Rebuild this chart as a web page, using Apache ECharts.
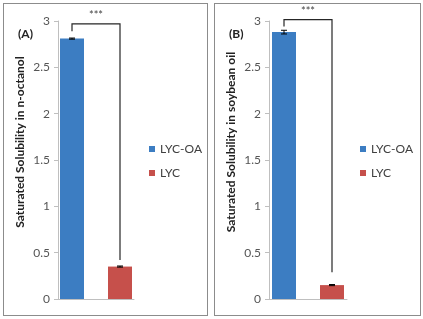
<!DOCTYPE html>
<html>
<head>
<meta charset="utf-8">
<script src="https://cdn.jsdelivr.net/npm/echarts@6/dist/echarts.min.js"></script>
<style>
  body { margin: 0; background: #fff; }
  .panel { position: absolute; top: 3px; height: 313px; box-sizing: border-box; border: 1px solid #8c8c8c; }
  #panelA { left: 3px; width: 205px; }
  #panelB { left: 214px; width: 207px; }
</style>
</head>
<body>
<div id="panelA" class="panel"></div>
<div id="panelB" class="panel"></div>
<script>
// ==========================
// DATA
// ==========================

const seriesNames = ["LYC-OA", "LYC"];
const categories = [""];
const yTicks = [0, 0.5, 1, 1.5, 2, 2.5, 3];

// panel A: n-octanol
const octanolMean = [2.81, 0.35];
const octanolErr = [0.006, 0.006];
const octanolBracket = [2.97, 2.89, 0.42]; // top, left leg end, right leg end

// panel B: soybean oil
const soybeanMean = [2.88, 0.15];
const soybeanErr = [0.02, 0.006];
const soybeanBracket = [3.015, 2.94, 0.29];

const COLORS = ["#3c7dc2", "#c6504b"];
const BAR_W = 24;
const BAR_OFFSET = 24; // half of centre-to-centre distance
const FONT = "Lato, 'Open Sans', sans-serif";

// ==========================
// CHART
// ==========================

function build(domId, label, yTitle, means, errs, bracket, gridW) {
  const chart = echarts.init(document.getElementById(domId));

  const bars = seriesNames.map((name, i) => ({
    name: name,
    type: "bar",
    data: [means[i]],
    barWidth: BAR_W,
    barGap: "100%",
    itemStyle: { color: COLORS[i] },
    silent: true
  }));

  // error bars
  const errSeries = {
    type: "custom",
    silent: true,
    z: 5,
    data: seriesNames.map((_, i) => [i, means[i], errs[i]]),
    renderItem: (params, api) => {
      const i = api.value(0);
      const off = (i === 0 ? -1 : 1) * BAR_OFFSET;
      const lo = api.coord([0, api.value(1) - api.value(2)]);
      const hi = api.coord([0, api.value(1) + api.value(2)]);
      const x = lo[0] + off;
      const st = { stroke: "#000", lineWidth: 1 };
      return {
        type: "group",
        children: [
          { type: "line", shape: { x1: x, y1: lo[1], x2: x, y2: hi[1] }, style: st },
          { type: "line", shape: { x1: x - 3, y1: hi[1], x2: x + 3, y2: hi[1] }, style: st },
          { type: "line", shape: { x1: x - 3, y1: lo[1], x2: x + 3, y2: lo[1] }, style: st }
        ]
      };
    }
  };

  // significance bracket
  const bracketSeries = {
    type: "custom",
    silent: true,
    clip: false,
    z: 6,
    data: [bracket],
    renderItem: (params, api) => {
      const top = api.coord([0, api.value(0)]);
      const l = api.coord([0, api.value(1)]);
      const r = api.coord([0, api.value(2)]);
      const xl = top[0] - BAR_OFFSET;
      const xr = top[0] + BAR_OFFSET;
      return {
        type: "group",
        children: [
          {
            type: "polyline",
            shape: { points: [[xl, l[1]], [xl, top[1]], [xr, top[1]], [xr, r[1]]] },
            style: { stroke: "#262626", lineWidth: 1.2, fill: null }
          },
          {
            type: "text",
            style: {
              text: "***", x: top[0], y: top[1] - 3,
              align: "center", verticalAlign: "bottom",
              font: "11px " + FONT, fill: "#444"
            }
          }
        ]
      };
    }
  };

  chart.setOption({
    animation: false,
    textStyle: { fontFamily: FONT },
    grid: { left: 54, top: 17, width: gridW, height: 278 },
    legend: {
      data: seriesNames,
      orient: "vertical",
      left: 140,
      top: 134,
      itemWidth: 6,
      itemHeight: 6,
      itemGap: 12,
      icon: "rect",
      textStyle: { fontSize: 12, color: "#404040", fontFamily: FONT }
    },
    xAxis: {
      type: "category",
      data: categories,
      axisLine: { lineStyle: { color: "#bfbfbf" } },
      axisTick: { show: false },
      axisLabel: { show: false }
    },
    yAxis: {
      type: "value",
      min: yTicks[0],
      max: yTicks[yTicks.length - 1],
      interval: 0.5,
      splitLine: { show: false },
      axisLine: { show: true, lineStyle: { color: "#bfbfbf" } },
      axisTick: { show: true, length: 4, lineStyle: { color: "#bfbfbf" } },
      axisLabel: { fontSize: 12, color: "#555", margin: 8, fontFamily: FONT }
    },
    graphic: [
      {
        type: "text",
        left: 14,
        top: 24,
        style: { text: label, font: "bold 12px " + FONT, fill: "#222" }
      },
      {
        type: "text",
        x: 16,
        y: 138,
        rotation: Math.PI / 2,
        style: {
          text: yTitle, font: "bold 12px " + FONT, fill: "#222",
          align: "center", verticalAlign: "middle"
        }
      }
    ],
    series: [...bars, errSeries, bracketSeries]
  });
  return chart;
}

build("panelA", "(A)", "Saturated Solubility in n-octanol",
  octanolMean, octanolErr, octanolBracket, 76);
build("panelB", "(B)", "Saturated Solubility in soybean oil",
  soybeanMean, soybeanErr, soybeanBracket, 78);
</script>
</body>
</html>
